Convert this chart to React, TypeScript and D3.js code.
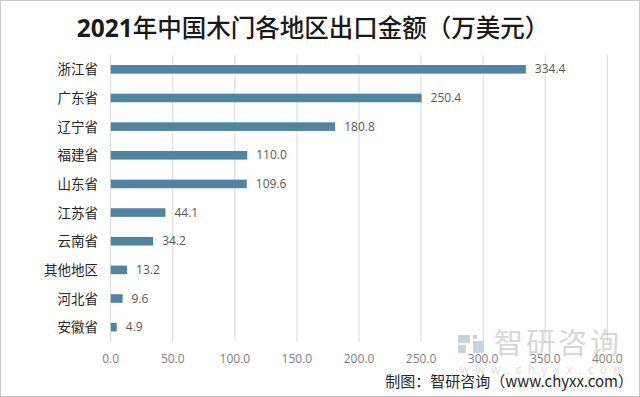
import React, { useEffect, useRef } from 'react';
import * as d3 from 'd3';

const regions = ['浙江省', '广东省', '辽宁省', '福建省', '山东省', '江苏省', '云南省', '其他地区', '河北省', '安徽省'];
const amounts = [334.4, 250.4, 180.8, 110.0, 109.6, 44.1, 34.2, 13.2, 9.6, 4.9];
const xTicks = [0, 50, 100, 150, 200, 250, 300, 350, 400];

const W = 640;
const H = 397;
const CJK = '"Noto Sans CJK SC", "Noto Sans", sans-serif';
const NUM = '"Open Sans", "Noto Sans", sans-serif';

const App = () => {
  const svgRef = useRef<SVGSVGElement>(null);

  useEffect(() => {
    const svg = d3.select(svgRef.current);
    svg.selectAll('*').remove();

    const data = regions.map((name, i) => ({ name, value: amounts[i] }));

    const x = d3.scaleLinear().domain([0, 400]).range([110.7, 607.3]);
    const y = d3.scaleBand<string>().domain(regions).range([55, 341.5]).paddingInner(0.7).paddingOuter(0.35);

    svg.append('rect')
      .attr('x', 0.5).attr('y', 0.5)
      .attr('width', W - 1).attr('height', H - 1)
      .attr('fill', '#fff')
      .attr('stroke', '#c9c9c9');

    // title: bold digits, medium CJK
    const title = svg.append('text')
      .attr('x', 313).attr('y', 37)
      .attr('text-anchor', 'middle')
      .style('font-family', CJK)
      .style('font-size', '24.5px')
      .attr('fill', '#1a1a1a');
    title.append('tspan').style('font-weight', 'bold').style('font-family', NUM).text('2021');
    title.append('tspan').style('font-weight', '500').text('年中国木门各地区出口金额（万美元）');

    // grid
    svg.append('g')
      .selectAll('line')
      .data(xTicks)
      .enter()
      .append('line')
      .attr('x1', (d) => x(d)).attr('x2', (d) => x(d))
      .attr('y1', 55).attr('y2', 342)
      .attr('stroke', '#d9d9d9')
      .attr('stroke-width', 1);

    // x tick labels
    svg.append('g')
      .selectAll('text')
      .data(xTicks)
      .enter()
      .append('text')
      .attr('x', (d) => x(d))
      .attr('y', 363)
      .attr('text-anchor', 'middle')
      .style('font-family', NUM)
      .style('font-size', '12px')
      .attr('fill', '#7f7f7f')
      .text((d) => d.toFixed(1));

    // watermark
    const wm = svg.append('g').attr('opacity', 0.5);
    wm.append('rect').attr('x', 458).attr('y', 335).attr('width', 12).attr('height', 8).attr('fill', '#8fa8c4');
    wm.append('rect').attr('x', 458).attr('y', 345).attr('width', 8).attr('height', 8).attr('fill', '#8fa8c4');
    wm.append('rect').attr('x', 473).attr('y', 335).attr('width', 4).attr('height', 4).attr('fill', '#8fa8c4');
    wm.append('rect').attr('x', 473).attr('y', 341).attr('width', 11).attr('height', 12).attr('fill', '#8fa8c4');
    wm.append('text')
      .attr('x', 494).attr('y', 354)
      .style('font-family', CJK)
      .style('font-size', '29px')
      .style('letter-spacing', '3px')
      .attr('fill', '#b0b0b0')
      .text('智研咨询');
    wm.append('text')
      .attr('x', 460).attr('y', 374)
      .style('font-family', NUM)
      .style('font-size', '12px')
      .style('letter-spacing', '6.2px')
      .attr('fill', '#bdbdbd')
      .text('www.chyxx.com');

    // bars
    svg.append('g')
      .selectAll('rect')
      .data(data)
      .enter()
      .append('rect')
      .attr('x', x(0))
      .attr('y', (d) => y(d.name)!)
      .attr('width', (d) => x(d.value) - x(0))
      .attr('height', y.bandwidth())
      .attr('fill', '#4f84a3');

    // value labels
    svg.append('g')
      .selectAll('text')
      .data(data)
      .enter()
      .append('text')
      .attr('x', (d) => x(d.value) + 9)
      .attr('y', (d) => y(d.name)! + y.bandwidth() / 2 + 4)
      .style('font-family', NUM)
      .style('font-size', '12px')
      .attr('fill', '#595959')
      .text((d) => d.value.toFixed(1));

    // category labels
    svg.append('g')
      .selectAll('text')
      .data(data)
      .enter()
      .append('text')
      .attr('x', 98)
      .attr('y', (d) => y(d.name)! + y.bandwidth() / 2 + 5)
      .attr('text-anchor', 'end')
      .style('font-family', CJK)
      .style('font-size', '13.5px')
      .attr('fill', '#262626')
      .text((d) => d.name);

    // source
    svg.append('text')
      .attr('x', 633).attr('y', 387)
      .attr('text-anchor', 'end')
      .style('font-family', CJK)
      .style('font-size', '15px')
      .attr('fill', '#262626')
      .text('制图：智研咨询（www.chyxx.com）');
  }, []);

  return (
    <div style={{ position: 'absolute', left: 0, top: 0 }}>
      <svg ref={svgRef} width={W} height={H} style={{ display: 'block' }}></svg>
    </div>
  );
};

export default App;
